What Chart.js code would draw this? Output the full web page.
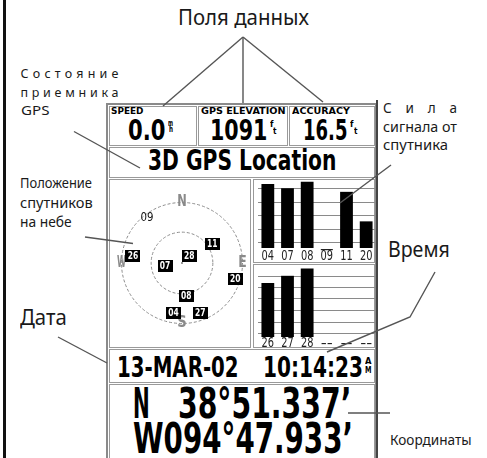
<!DOCTYPE html>
<html><head><meta charset="utf-8">
<script src="https://cdn.jsdelivr.net/npm/chart.js@4.4.1/dist/chart.umd.min.js"></script>
<style>
html,body{margin:0;padding:0;background:#fff;}
#root{position:relative;width:487px;height:458px;overflow:hidden;background:#fff;}
.abs{position:absolute;white-space:nowrap;}
.ann{font-family:"Noto Sans",sans-serif;font-weight:400;color:#1a1a1a;}
.scr{font-family:"DejaVu Sans",sans-serif;font-weight:700;color:#000;}
.pn{position:absolute;box-sizing:border-box;border:1px solid #9a9a9a;}
canvas{position:absolute;}
</style></head><body>
<div id="root">
  <div class="pn" style="left:106px;top:103px;width:271px;height:370px;border:2px solid #8a8a8a"></div>
  <div class="pn" style="left:109px;top:106px;width:88px;height:40px"></div>
  <div class="pn" style="left:198px;top:106px;width:90px;height:40px"></div>
  <div class="pn" style="left:289px;top:106px;width:86px;height:40px"></div>
  <div class="pn" style="left:109px;top:147px;width:266px;height:31px"></div>
  <div class="pn" style="left:109px;top:179px;width:142px;height:169px"></div>
  <div class="pn" style="left:253px;top:179px;width:122px;height:84px"></div>
  <div class="pn" style="left:253px;top:264px;width:122px;height:84px"></div>
  <div class="pn" style="left:109px;top:349px;width:266px;height:34px"></div>
  <div class="pn" style="left:109px;top:384px;width:266px;height:90px"></div>
  <div style="position:absolute;left:3px;top:0;width:3px;height:458px;background:#111"></div>
  <div style="position:absolute;left:376px;top:100px;width:2px;height:358px;background:#444"></div>
  <canvas id="sky" width="140" height="140" style="left:112px;top:193px;width:140px;height:140px"></canvas>
  <canvas id="barTop" width="118" height="86" style="left:258px;top:176px;width:118px;height:86px"></canvas>
  <canvas id="barBot" width="118" height="82" style="left:258px;top:265px;width:118px;height:82px"></canvas>
</div>
<script>
// ---------- data ----------
const skySats    = ['09','11','26','28','07','20','08','04','27'];
const skyX       = [-0.58, 0.50, -0.81, 0.12, -0.28, 0.88, 0.07, -0.14, 0.30];
const skyY       = [ 0.75, 0.32,  0.11, 0.11, -0.05, -0.27, -0.55, -0.83, -0.83];
const skyTracked = [false, true, true, true, true, true, true, true, true];
const skyRings   = [1, 0.51];
const compass    = ['N','E','S','W'];
const compassX   = [0, 1, 0, -1];
const compassY   = [1, 0, -1, 0];

const sigTopLabels = ['04','07','08','09','11','20'];
const sigTopValues = [89, 83, 92, 0, 78, 37];
const sigBotLabels = ['26','27','28','--','--','--'];
const sigBotValues = [75, 85, 95, 0, 0, 0];
const gridTop = [83, 64, 46, 27, 9];
const gridBot = [85, 70, 54, 38, 21, 5];
const untracked = ['09'];

const fieldLabels = ['SPEED','GPS ELEVATION','ACCURACY'];
const fieldValues = ['0.0','1091','16.5'];
const statusText = '3D GPS Location';
const dateText = '13-MAR-02';
const timeText = '10:14:23';
const latText = ['N','38°51.337’'];
const lonText = 'W094°47.933’';

// ---------- text helpers ----------
const root = document.getElementById('root');
function txt(o){
  const d = document.createElement('div');
  d.className = 'abs ' + o.cls;
  d.style.fontSize = o.size + 'px';
  d.style.lineHeight = o.lh;
  if (o.color) d.style.color = o.color;
  const s = document.createElement('span'); s.textContent = o.t;
  const st = document.createElement('span'); st.style.cssText = 'display:inline-block;width:0;height:0;';
  d.appendChild(s); d.appendChild(st);
  root.appendChild(d);
  const w = s.getBoundingClientRect().width;
  if (o.justify) {
    const n = [...o.t].length;
    s.style.letterSpacing = ((o.w - w) / (n - 1)) + 'px';
  } else if (o.w) {
    s.style.display = 'inline-block';
    s.style.transform = 'scaleX(' + (o.w / w) + ')';
    s.style.transformOrigin = '0 0';
    d.style.width = o.w + 'px';
  }
  const bo = st.offsetTop;
  const left = (o.cx !== undefined) ? o.cx - o.w / 2 : o.x;
  d.style.left = left + 'px';
  d.style.top = (o.y - bo) + 'px';
}
const ann = [
  {t:'Поля данных', cx:243, y:25, size:22, w:131},
  {t:'Состояние', x:20.5, y:78.3, size:12.5, w:98, justify:true},
  {t:'приемника', x:20.5, y:96.7, size:12.5, w:98, justify:true},
  {t:'GPS', x:20.5, y:115, size:12.5, w:28.5},
  {t:'Сила', x:383, y:113.3, size:13.5, w:74, justify:true},
  {t:'сигнала от', x:383, y:131.5, size:13.5, w:74},
  {t:'спутника', x:383, y:149.5, size:13.5, w:65},
  {t:'Положение', x:20, y:188.3, size:14, w:72},
  {t:'спутников', x:20, y:207.5, size:14, w:72.7},
  {t:'на небе', x:20, y:226.7, size:14, w:51.7},
  {t:'Дата', x:20, y:325, size:21, w:46.7},
  {t:'Время', x:388.3, y:256.5, size:21, w:61.7},
  {t:'Координаты', x:390, y:445, size:14, w:81.7}
];
ann.forEach(a => txt(Object.assign({cls:'ann', lh:'1'}, a)));
const scr = [
  {t:fieldLabels[0], x:110.5, y:113.5, size:9, w:32.5},
  {t:fieldLabels[1], x:200.5, y:113.5, size:9, w:84.5},
  {t:fieldLabels[2], x:292, y:113.5, size:9, w:58},
  {t:fieldValues[0], x:128.3, y:140, size:27.5, w:37.5},
  {t:fieldValues[1], x:210, y:140, size:27.5, w:57.5},
  {t:fieldValues[2], x:303.3, y:140, size:27.5, w:44.5},
  {t:'m', x:168, y:125.5, size:8, w:5}, {t:'h', x:168.5, y:132, size:8, w:4},
  {t:'f', x:269.5, y:127, size:8, w:3.5}, {t:'t', x:273, y:133.5, size:8, w:3.5},
  {t:'f', x:350, y:127, size:8, w:3.5}, {t:'t', x:354, y:133.5, size:8, w:3.5},
  {t:statusText, x:148.3, y:170, size:27.5, w:188.4},
  {t:dateText, x:116.7, y:376.7, size:27.5, w:121.6},
  {t:timeText, x:263.3, y:376.7, size:27.5, w:100},
  {t:'A', x:365, y:363.5, size:9, w:6.5}, {t:'M', x:365, y:373, size:9, w:6.5},
  {t:latText[0], x:133.3, y:418.3, size:43.5, w:16.7},
  {t:latText[1], x:178.3, y:418.3, size:43.5, w:173.4},
  {t:lonText, x:133.3, y:453.3, size:43.5, w:220}
];
scr.forEach(a => txt(Object.assign({cls:'scr', lh:'0.78'}, a)));

// leader lines
const svgNS = 'http://www.w3.org/2000/svg';
const svg = document.createElementNS(svgNS, 'svg');
svg.setAttribute('width', 487); svg.setAttribute('height', 458);
svg.style.cssText = 'position:absolute;left:0;top:0;';
const leaders = [
  [[243,37],[163,106]], [[243,37],[243,103]], [[243,37],[323,102]],
  [[74,131.5],[140,168]], [[391,165],[340,203]], [[85,237],[133,243.5]],
  [[58,337],[107,363]], [[435,272],[410,317],[327,352]], [[348,413],[390,413]]
];
leaders.forEach(p => {
  const pl = document.createElementNS(svgNS, 'polyline');
  pl.setAttribute('points', p.map(q => q.join(',')).join(' '));
  pl.setAttribute('fill', 'none'); pl.setAttribute('stroke', '#555'); pl.setAttribute('stroke-width', '1.4');
  svg.appendChild(pl);
});

// ---------- canvas helpers ----------
function fitText(ctx, text, x, y, w, align){
  const m = ctx.measureText(text).width;
  ctx.save(); ctx.translate(x, y); ctx.scale(w / m, 1);
  ctx.textAlign = align || 'center'; ctx.fillText(text, 0, 0); ctx.restore();
}
const compassW = [9.5, 8.5, 9.5, 9];

const skyPlugin = {
  id: 'skyDraw',
  beforeDatasetsDraw(chart){
    const {ctx, scales:{x, y}} = chart;
    const cx = x.getPixelForValue(0), cy = y.getPixelForValue(0);
    ctx.save();
    ctx.strokeStyle = '#8c8c8c'; ctx.lineWidth = 1; ctx.setLineDash([3,2]);
    skyRings.forEach(r => {
      const rad = x.getPixelForValue(r) - cx;
      ctx.beginPath(); ctx.arc(cx, cy, rad, 0, Math.PI * 2); ctx.stroke();
    });
    ctx.setLineDash([]);
    ctx.fillStyle = '#999'; ctx.fillRect(cx - 1, cy - 1, 2, 2);
    ctx.font = 'bold 15px "DejaVu Sans"'; ctx.textBaseline = 'middle'; ctx.fillStyle = '#8a8a8a';
    compass.forEach((c, i) => {
      fitText(ctx, c, x.getPixelForValue(compassX[i]), y.getPixelForValue(compassY[i]), compassW[i], 'center');
    });
    ctx.restore();
  },
  afterDatasetsDraw(chart){
    const ctx = chart.ctx, meta = chart.getDatasetMeta(0);
    ctx.save(); ctx.textBaseline = 'middle';
    meta.data.forEach((el, i) => {
      const px = el.x, py = el.y;
      if (skyTracked[i]) {
        ctx.fillStyle = '#000'; ctx.fillRect(Math.round(px - 7.5), Math.round(py - 6), 15, 12);
        ctx.fillStyle = '#fff'; ctx.font = 'bold 10px "DejaVu Sans"';
        fitText(ctx, skySats[i], px, py + 0.5, 10.5, 'center');
      } else {
        ctx.fillStyle = '#111'; ctx.font = '13px "DejaVu Sans"';
        fitText(ctx, skySats[i], px, py, 13, 'center');
      }
    });
    ctx.restore();
  }
};

new Chart(document.getElementById('sky'), {
  type: 'scatter',
  data: { datasets: [{ data: skyX.map((v, i) => ({x: v, y: skyY[i]})), pointRadius: 0 }] },
  options: {
    responsive: false, animation: false, events: [],
    layout: { padding: 0 },
    plugins: { legend: { display: false }, tooltip: { enabled: false } },
    scales: {
      x: { type: 'linear', min: -1.157, max: 1.157, display: false },
      y: { type: 'linear', min: -1.157, max: 1.157, display: false }
    }
  },
  plugins: [skyPlugin]
});

function makeBars(id, labels, values, grid, padBottom, labelOff){
  const plug = {
    id: 'sig' + id,
    beforeDatasetsDraw(chart){
      const {ctx, chartArea:a, scales:{y}} = chart;
      ctx.save(); ctx.strokeStyle = '#8a8a8a'; ctx.lineWidth = 1;
      grid.forEach(v => {
        const py = Math.round(y.getPixelForValue(v)) + 0.5;
        ctx.beginPath(); ctx.moveTo(a.left - 1, py); ctx.lineTo(a.right, py); ctx.stroke();
      });
      ctx.restore();
    },
    afterDatasetsDraw(chart){
      const {ctx, chartArea:a, scales:{x}} = chart;
      ctx.save(); ctx.fillStyle = '#222'; ctx.font = '14px "DejaVu Sans"'; ctx.textBaseline = 'alphabetic';
      labels.forEach((l, i) => {
        const px = x.getPixelForValue(i);
        if (l === '--') {
          fitText(ctx, l, px, a.bottom + labelOff + 1.5, 12, 'center');
        } else {
          fitText(ctx, l, px, a.bottom + labelOff, 12.5, 'center');
        }
        if (untracked.includes(l)) {
          ctx.fillRect(px - 6, a.bottom + 1, 12, 1.2);
        }
      });
      ctx.restore();
    }
  };
  new Chart(document.getElementById(id), {
    type: 'bar',
    data: { labels: labels, datasets: [{ data: values, backgroundColor: '#000', borderWidth: 0, barPercentage: 0.65, categoryPercentage: 1 }] },
    options: {
      responsive: false, animation: false, events: [],
      layout: { padding: { top: 0, bottom: padBottom, left: 0, right: 0 } },
      plugins: { legend: { display: false }, tooltip: { enabled: false } },
      scales: { x: { display: false }, y: { display: false, min: 0, max: 100 } }
    },
    plugins: [plug]
  });
}
makeBars('barTop', sigTopLabels, sigTopValues, gridTop, 14, 12);
makeBars('barBot', sigBotLabels, sigBotValues, gridBot, 10, 9.5);

root.appendChild(svg);
</script>
</body></html>
